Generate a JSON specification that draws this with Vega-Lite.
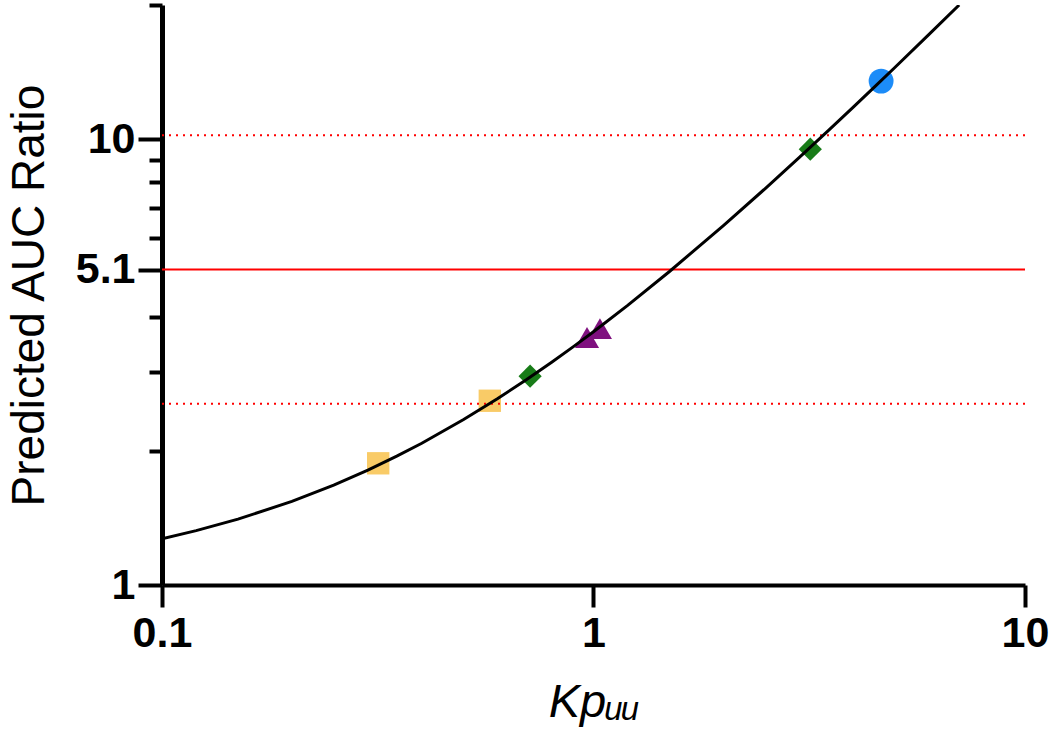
{
  "$schema": "https://vega.github.io/schema/vega-lite/v6.json",
  "width": 863,
  "height": 580,
  "autosize": {"type": "none"},
  "padding": {"left": 162, "top": 5, "right": 25, "bottom": 161},
  "background": "white",
  "config": {
    "view": {"stroke": null},
    "font": "Liberation Sans"
  },
  "datasets": {
    "curve": [
      {"kp": 0.1, "auc": 1.27},
      {"kp": 0.12, "auc": 1.324},
      {"kp": 0.15, "auc": 1.405},
      {"kp": 0.2, "auc": 1.54},
      {"kp": 0.25, "auc": 1.675},
      {"kp": 0.3, "auc": 1.81},
      {"kp": 0.35, "auc": 1.945},
      {"kp": 0.4, "auc": 2.08},
      {"kp": 0.5, "auc": 2.35},
      {"kp": 0.6, "auc": 2.62},
      {"kp": 0.7, "auc": 2.89},
      {"kp": 0.8, "auc": 3.16},
      {"kp": 0.9, "auc": 3.43},
      {"kp": 1.0, "auc": 3.7},
      {"kp": 1.2, "auc": 4.24},
      {"kp": 1.5, "auc": 5.05},
      {"kp": 2.0, "auc": 6.4},
      {"kp": 2.5, "auc": 7.75},
      {"kp": 3.0, "auc": 9.1},
      {"kp": 3.5, "auc": 10.45},
      {"kp": 4.0, "auc": 11.8},
      {"kp": 4.5, "auc": 13.15},
      {"kp": 5.0, "auc": 14.5},
      {"kp": 6.0, "auc": 17.2},
      {"kp": 7.037, "auc": 20.0}
    ],
    "points": [
      {"kp": 0.317, "auc": 1.875, "group": "A"},
      {"kp": 0.575, "auc": 2.59, "group": "A"},
      {"kp": 0.713, "auc": 2.94, "group": "B"},
      {"kp": 3.18, "auc": 9.5, "group": "B"},
      {"kp": 0.966, "auc": 3.59, "group": "C"},
      {"kp": 1.035, "auc": 3.76, "group": "C"},
      {"kp": 4.64, "auc": 13.5, "group": "D"}
    ],
    "refs": [
      {"level": 2.55, "kind": "dotted"},
      {"level": 5.1, "kind": "solid"},
      {"level": 10.2, "kind": "dotted"}
    ]
  },
  "encoding": {
    "x": {
      "field": "kp",
      "type": "quantitative",
      "scale": {"type": "log", "domain": [0.1, 10], "nice": false},
      "axis": {
        "title": "Kpᵤᵤ",
        "values": [0.1, 1, 10],
        "format": "~g",
        "grid": false,
        "domainColor": "black",
        "domainWidth": 4,
        "tickColor": "black",
        "tickWidth": 4,
        "tickSize": 22,
        "labelFont": "Liberation Sans",
        "labelFontSize": 43,
        "labelFontWeight": "bold",
        "labelColor": "black",
        "labelPadding": 5,
        "labelFlush": false,
        "labelOverlap": false,
        "titleFont": "Liberation Sans",
        "titleFontSize": 47,
        "titleFontStyle": "italic",
        "titleFontWeight": "normal",
        "titleColor": "black",
        "titlePadding": 24
      }
    },
    "y": {
      "field": "auc",
      "type": "quantitative",
      "scale": {"type": "log", "domain": [1, 20], "nice": false},
      "axis": {
        "title": "Predicted AUC Ratio",
        "values": [1, 2, 3, 4, 5.1, 6, 7, 8, 9, 10, 20],
        "labelExpr": "(datum.value == 1 || datum.value == 5.1 || datum.value == 10) ? datum.label : ''",
        "format": "~g",
        "grid": false,
        "domainColor": "black",
        "domainWidth": 5,
        "tickColor": "black",
        "tickWidth": 4,
        "tickSize": {"condition": {"test": "datum.value == 1 || datum.value == 5.1 || datum.value == 10", "value": 24}, "value": 13},
        "labelFont": "Liberation Sans",
        "labelFontSize": 43,
        "labelFontWeight": "bold",
        "labelColor": "black",
        "labelPadding": 3,
        "labelFlush": false,
        "labelOverlap": false,
        "titleFont": "Liberation Sans",
        "titleFontSize": 46,
        "titleFontWeight": "normal",
        "titleColor": "black",
        "titlePadding": 22
      }
    }
  },
  "layer": [
    {
      "data": {"name": "points"},
      "mark": {"type": "point", "filled": true, "opacity": 1},
      "encoding": {
        "color": {
          "field": "group",
          "type": "nominal",
          "scale": {"domain": ["A", "B", "C", "D"], "range": ["#F9CB67", "#187C18", "#7F117F", "#1C8CF8"]},
          "legend": null
        },
        "shape": {
          "field": "group",
          "type": "nominal",
          "scale": {"domain": ["A", "B", "C", "D"], "range": ["square", "diamond", "triangle-up", "circle"]},
          "legend": null
        },
        "size": {
          "field": "group",
          "type": "nominal",
          "scale": {"domain": ["A", "B", "C", "D"], "range": [500, 620, 700, 480]},
          "legend": null
        }
      }
    },
    {
      "data": {"name": "refs"},
      "mark": {"type": "rule", "color": "#FF0000", "strokeWidth": 2},
      "encoding": {
        "x": null,
        "y": {"field": "level", "type": "quantitative"},
        "strokeDash": {
          "field": "kind",
          "type": "nominal",
          "scale": {"domain": ["dotted", "solid"], "range": [[2, 5], [1, 0]]},
          "legend": null
        }
      }
    },
    {
      "data": {"name": "curve"},
      "mark": {"type": "line", "color": "black", "strokeWidth": 3, "clip": true},
      "encoding": {}
    }
  ]
}
